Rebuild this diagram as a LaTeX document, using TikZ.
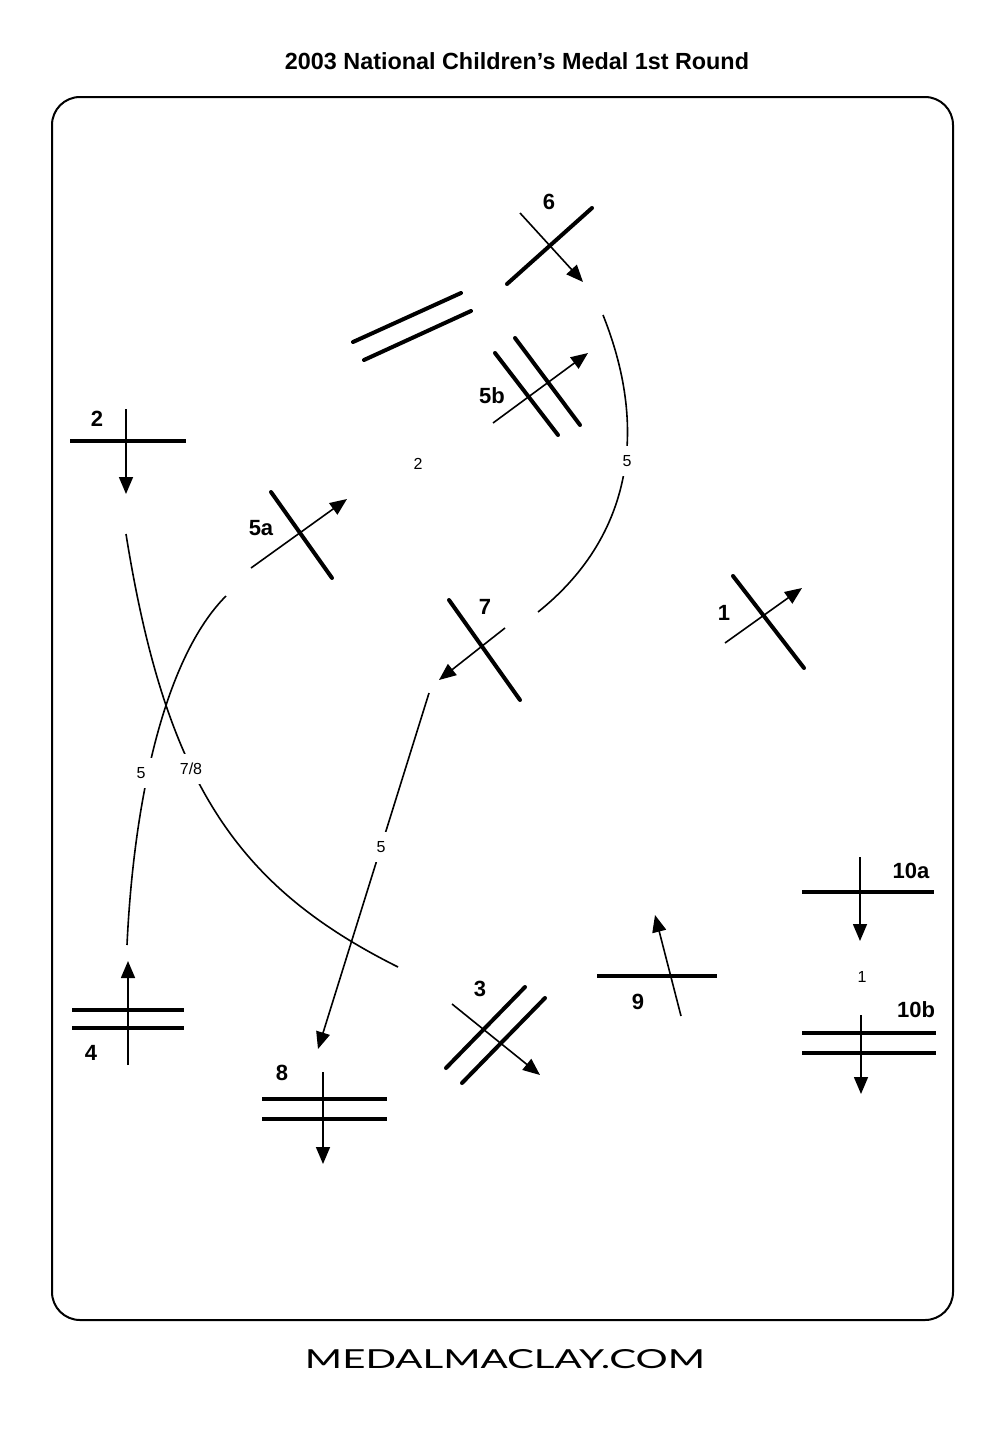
\documentclass[tikz,border=0pt]{standalone}
\usepackage{fontspec}
\usetikzlibrary{arrows.meta}
\newfontfamily\labfont{Liberation Sans}
\newfontfamily\footfont{Lato}
\begin{document}
\begin{tikzpicture}[x=1pt,y=-1pt,
  border/.style={line width=2pt, rounded corners=28pt},
  fence/.style={line width=4pt, line cap=round},
  rail/.style={line width=3.5pt},
  trackline/.style={line width=1.6pt},
  dirarrow/.style={line width=1.6pt, -{Triangle[length=17pt,width=14pt]}},
  biglabel/.style={font=\labfont\fontsize{22}{26}\selectfont\bfseries, inner sep=0pt},
  smalllabel/.style={font=\labfont\fontsize{16}{19}\selectfont, fill=white, inner sep=9pt},
  freelabel/.style={font=\labfont\fontsize{16}{19}\selectfont, inner sep=0pt}]
\useasboundingbox (0,0) rectangle (1000,1429);
% border
\coordinate (b1) at (52,97);
\coordinate (b2) at (953,1320);
\draw[border] (b1) rectangle (b2);
% title and footer
\node[font=\labfont\bfseries] (title) at (517,61) {\resizebox{464pt}{!}{2003 National Children’s Medal 1st Round}};
\node (footer) at (505,1359) {\resizebox{400pt}{19pt}{\footfont MEDALMACLAY.COM}};
% ---- coordinates ----
% fence 2
\coordinate (f2a) at (70,441); \coordinate (f2b) at (186,441);
\coordinate (a2s) at (126,409); \coordinate (a2e) at (126,494);
% fence 5a
\coordinate (f5a1) at (271,492); \coordinate (f5a2) at (332,578);
\coordinate (a5as) at (251,568); \coordinate (a5ae) at (347,499);
% fence 4
\coordinate (f4a) at (72,1010); \coordinate (f4b) at (184,1010);
\coordinate (f4c) at (72,1028); \coordinate (f4d) at (184,1028);
\coordinate (a4s) at (128,1065); \coordinate (a4e) at (128,961);
% unnumbered double rail
\coordinate (dr1) at (353,342); \coordinate (dr2) at (461,293);
\coordinate (dr3) at (364,360); \coordinate (dr4) at (471,311);
% fence 5b
\coordinate (f5b1) at (495,353); \coordinate (f5b2) at (558,435);
\coordinate (f5b3) at (515,338); \coordinate (f5b4) at (580,425);
\coordinate (a5bs) at (493,423); \coordinate (a5be) at (588,353);
% fence 6
\coordinate (f6a) at (507,284); \coordinate (f6b) at (592,208);
\coordinate (a6s) at (520,213); \coordinate (a6e) at (583,282);
% fence 7
\coordinate (f7a) at (449,600); \coordinate (f7b) at (520,700);
\coordinate (a7s) at (505,628); \coordinate (a7e) at (439,680);
% fence 1
\coordinate (f1a) at (733,576); \coordinate (f1b) at (804,668);
\coordinate (a1s) at (725,643); \coordinate (a1e) at (802,588);
% fence 8
\coordinate (f8a) at (262,1099); \coordinate (f8b) at (387,1099);
\coordinate (f8c) at (262,1119); \coordinate (f8d) at (387,1119);
\coordinate (a8s) at (323,1072); \coordinate (a8e) at (323,1164);
% fence 3
\coordinate (f3a) at (446,1068); \coordinate (f3b) at (525,987);
\coordinate (f3c) at (462,1083); \coordinate (f3d) at (545,998);
\coordinate (a3s) at (452,1004); \coordinate (a3e) at (540,1075);
% fence 9
\coordinate (f9a) at (597,976); \coordinate (f9b) at (717,976);
\coordinate (a9s) at (681,1016); \coordinate (a9e) at (655,915);
% fence 10a
\coordinate (f10a1) at (802,892); \coordinate (f10a2) at (934,892);
\coordinate (a10as) at (860,857); \coordinate (a10ae) at (860,941);
% fence 10b
\coordinate (f10b1) at (802,1033); \coordinate (f10b2) at (936,1033);
\coordinate (f10b3) at (802,1053); \coordinate (f10b4) at (936,1053);
\coordinate (a10bs) at (861,1015); \coordinate (a10be) at (861,1094);
% tracks
\coordinate (t78s) at (126,534); \coordinate (t78e) at (398,967);
\coordinate (t4s) at (226,596); \coordinate (t4e) at (127,945);
\coordinate (t67s) at (603,315); \coordinate (t67e) at (538,612);
\coordinate (t78bs) at (429,693); \coordinate (t78be) at (318,1049);
% ---- drawing ----
\draw[rail] (f2a) -- (f2b);
\draw[dirarrow] (a2s) -- (a2e);
\draw[fence] (f5a1) -- (f5a2);
\draw[dirarrow] (a5as) -- (a5ae);
\draw[rail] (f4a) -- (f4b);
\draw[rail] (f4c) -- (f4d);
\draw[dirarrow] (a4s) -- (a4e);
\draw[fence] (dr1) -- (dr2);
\draw[fence] (dr3) -- (dr4);
\draw[fence] (f5b1) -- (f5b2);
\draw[fence] (f5b3) -- (f5b4);
\draw[dirarrow] (a5bs) -- (a5be);
\draw[fence] (f6a) -- (f6b);
\draw[dirarrow] (a6s) -- (a6e);
\draw[fence] (f7a) -- (f7b);
\draw[dirarrow] (a7s) -- (a7e);
\draw[fence] (f1a) -- (f1b);
\draw[dirarrow] (a1s) -- (a1e);
\draw[rail] (f8a) -- (f8b);
\draw[rail] (f8c) -- (f8d);
\draw[dirarrow] (a8s) -- (a8e);
\draw[fence] (f3a) -- (f3b);
\draw[fence] (f3c) -- (f3d);
\draw[dirarrow] (a3s) -- (a3e);
\draw[rail] (f9a) -- (f9b);
\draw[dirarrow] (a9s) -- (a9e);
\draw[rail] (f10a1) -- (f10a2);
\draw[dirarrow] (a10as) -- (a10ae);
\draw[rail] (f10b1) -- (f10b2);
\draw[rail] (f10b3) -- (f10b4);
\draw[dirarrow] (a10bs) -- (a10be);
% track lines
\draw[trackline] (t78s) .. controls (166,784) and (238,887) .. (t78e);
\draw[trackline] (t4s) .. controls (166,656) and (134,795) .. (t4e);
\draw[trackline] (t67s) .. controls (651,435) and (628,540) .. (t67e);
\draw[dirarrow] (t78bs) -- (t78be);
% stride labels
\node[smalllabel] (s5left) at (141,773) {5};
\node[smalllabel] (s78) at (191,769) {7/8};
\node[smalllabel] (s5right) at (627,461) {5};
\node[smalllabel] (s5mid) at (381,847) {5};
\node[freelabel] (s2) at (418,464) {2};
\node[freelabel] (s1) at (862,977) {1};
% fence labels
\node[biglabel] (l2) at (97,419) {2};
\node[biglabel] (l5a) at (261,528) {5a};
\node[biglabel] (l5b) at (492,396) {5b};
\node[biglabel] (l6) at (549,202) {6};
\node[biglabel] (l7) at (485,607) {7};
\node[biglabel] (l1) at (724,613) {1};
\node[biglabel] (l4) at (91,1053) {4};
\node[biglabel] (l8) at (282,1073) {8};
\node[biglabel] (l3) at (480,989) {3};
\node[biglabel] (l9) at (638,1002) {9};
\node[biglabel] (l10a) at (911,871) {10a};
\node[biglabel] (l10b) at (916,1010) {10b};
\end{tikzpicture}
\end{document}
